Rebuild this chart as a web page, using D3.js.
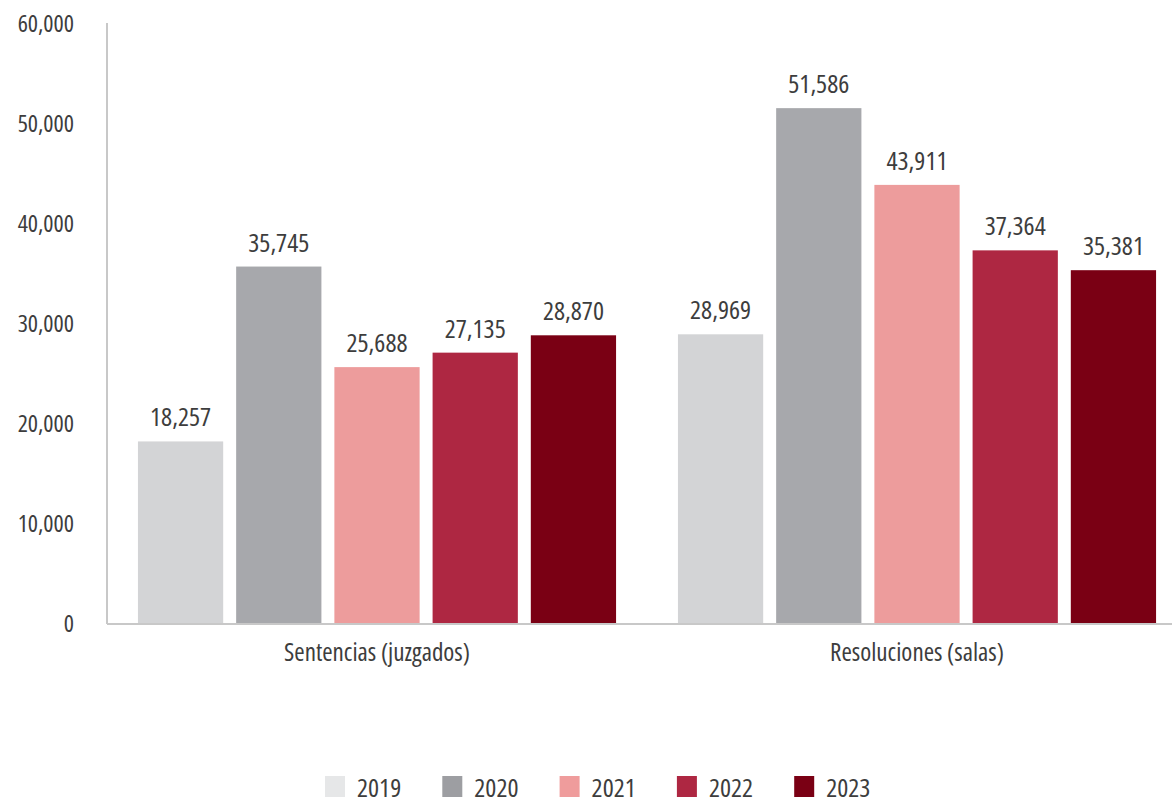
<!DOCTYPE html>
<html>
<head>
<meta charset="utf-8">
<script src="https://cdn.jsdelivr.net/npm/d3@7"></script>
<style>
  body { margin: 0; background: #fff; }
  text { font-family: "Open Sans", sans-serif; font-stretch: 85%; font-weight: 400; fill: #3d3d3d; }
</style>
</head>
<body>
<div class="canvas"></div>
<script>
// data
var categories = ["Sentencias (juzgados)", "Resoluciones (salas)"];
var years = ["2019", "2020", "2021", "2022", "2023"];
var values2019 = [18257, 28969];
var values2020 = [35745, 51586];
var values2021 = [25688, 43911];
var values2022 = [27135, 37364];
var values2023 = [28870, 35381];
var yTicks = [0, 10000, 20000, 30000, 40000, 50000, 60000];
var barColors = ["#d3d4d6", "#a7a8ac", "#ed9c9c", "#ae2742", "#7a0014"];
var legendColors = ["#e6e7e8", "#9d9ea2", "#ef9c9c", "#ae2742", "#7a0014"];

var series = [values2019, values2020, values2021, values2022, values2023];

var svgWidth = 1172, svgHeight = 797;
var marginLeft = 107, plotTop = 24, plotBottom = 624;

const svg = d3.select(".canvas").append("svg")
    .attr("width", svgWidth)
    .attr("height", svgHeight);

var x0 = d3.scaleBand()
    .domain(categories)
    .range([marginLeft, marginLeft + 1080]);

var x1 = d3.scaleBand()
    .domain(years)
    .range([0, x0.bandwidth()])
    .paddingInner(0.132)
    .paddingOuter(0.315);

var y = d3.scaleLinear()
    .domain([0, 60000])
    .range([plotBottom, plotTop]);

var fmt = d3.format(",");

// y axis
var yAxis = svg.append("g")
    .attr("transform", "translate(" + marginLeft + ",0)")
    .call(d3.axisLeft(y).tickValues(yTicks).tickFormat(fmt).tickSize(0).tickPadding(33));
yAxis.select(".domain").attr("stroke", "#c8c8c8").attr("stroke-width", 2)
    .attr("d", "M0," + (plotTop - 1) + "V" + plotBottom);
yAxis.selectAll("text").style("font-size", "24px").attr("fill", "#3d3d3d");

// bars
var groups = svg.selectAll("g.cat")
    .data(categories)
    .enter().append("g")
    .attr("class", "cat")
    .attr("transform", function(d) { return "translate(" + x0(d) + ",0)"; });

groups.selectAll("rect")
    .data(function(d, i) { return years.map(function(yr, j) { return {year: yr, value: series[j][i], j: j}; }); })
    .enter().append("rect")
    .attr("x", function(d) { return x1(d.year); })
    .attr("y", function(d) { return y(d.value); })
    .attr("width", x1.bandwidth())
    .attr("height", function(d) { return plotBottom - y(d.value); })
    .attr("fill", function(d) { return barColors[d.j]; });

groups.selectAll("text.value")
    .data(function(d, i) { return years.map(function(yr, j) { return {year: yr, value: series[j][i]}; }); })
    .enter().append("text")
    .attr("class", "value")
    .attr("x", function(d) { return x1(d.year) + x1.bandwidth() / 2; })
    .attr("y", function(d) { return y(d.value) - 15; })
    .attr("text-anchor", "middle")
    .style("font-size", "26px")
    .text(function(d) { return fmt(d.value); });

// x axis
var xAxis = svg.append("g")
    .attr("transform", "translate(0," + plotBottom + ")")
    .call(d3.axisBottom(x0).tickSize(0).tickPadding(19));
xAxis.select(".domain").attr("stroke", "#c8c8c8").attr("stroke-width", 2)
    .attr("d", "M" + marginLeft + ",0H" + svgWidth);
xAxis.selectAll("text").style("font-size", "25px").attr("fill", "#3d3d3d");

// legend
var legend = svg.selectAll("g.legend")
    .data(years)
    .enter().append("g")
    .attr("class", "legend")
    .attr("transform", function(d, i) { return "translate(" + (325 + i * 117.3) + ",776)"; });

legend.append("rect")
    .attr("width", 20)
    .attr("height", 21)
    .attr("fill", function(d, i) { return legendColors[i]; });

legend.append("text")
    .attr("x", 32)
    .attr("y", 21)
    .style("font-size", "26px")
    .style("font-stretch", "75%")
    .text(function(d) { return d; });
</script>
</body>
</html>
